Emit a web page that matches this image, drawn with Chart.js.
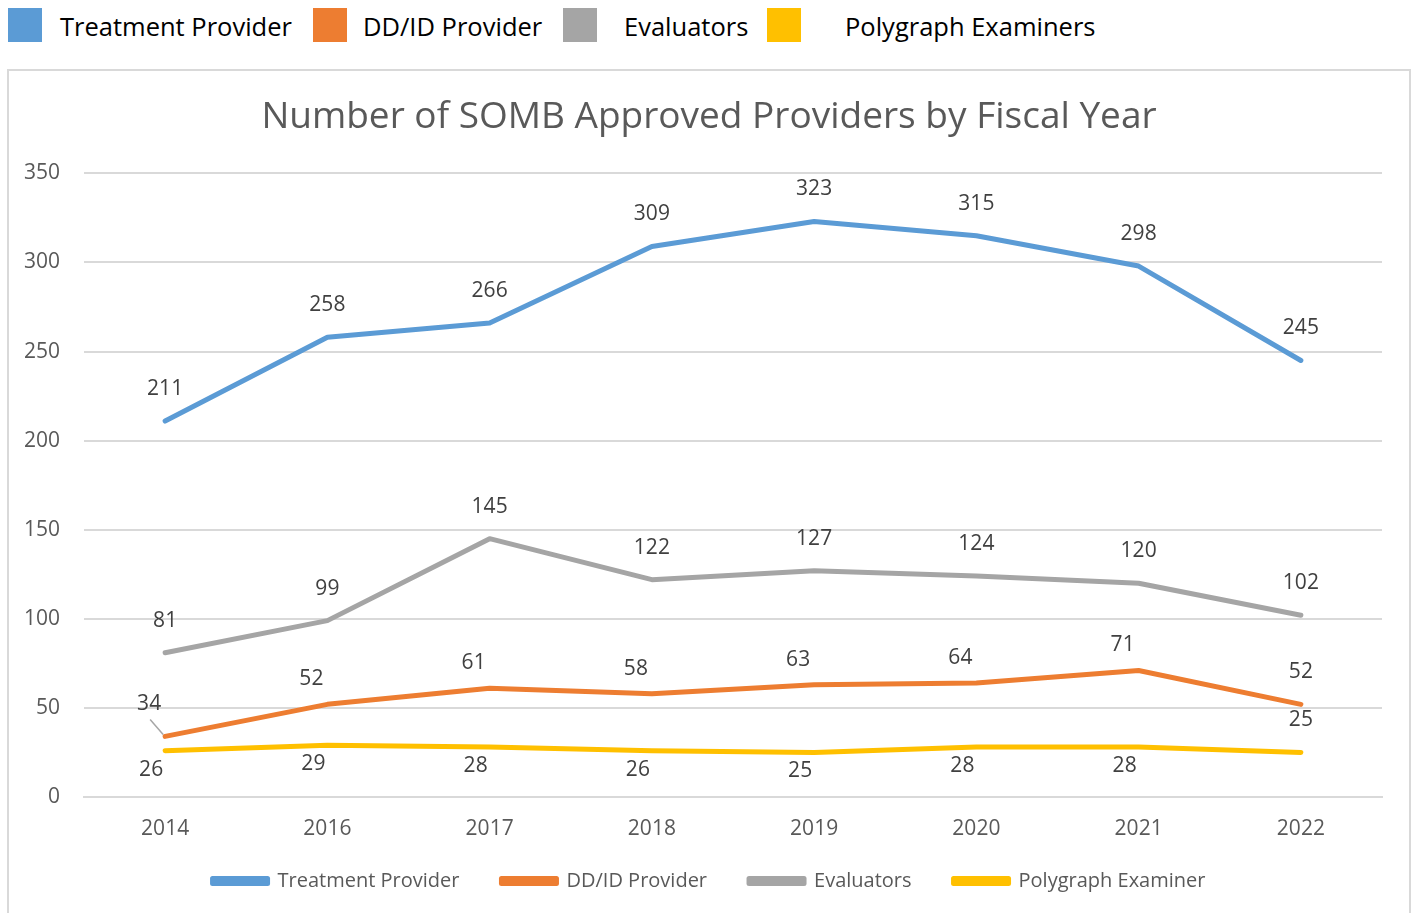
<!DOCTYPE html>
<html>
<head>
<meta charset="utf-8">
<script src="https://cdn.jsdelivr.net/npm/chart.js@4.4.1/dist/chart.umd.min.js"></script>
<style>
  body { margin: 0; background: #fff; font-family: "Open Sans", sans-serif; }
  #topLegend { position: absolute; left: 0; top: 0; width: 1414px; height: 60px; }
  .sw { position: absolute; top: 8px; width: 34px; height: 34px; }
  .lbl { position: absolute; top: 9px; height: 34px; line-height: 34px; font-size: 25.5px; color: #000; white-space: nowrap; }
  #box { position: absolute; left: 7px; top: 69px; width: 1400px; height: 860px; border: 2px solid #d9d9d9; }
  #wrap { position: absolute; left: 0; top: 0; width: 1400px; height: 842px; }
</style>
</head>
<body>
<div id="topLegend">
  <div class="sw" style="left:8px;background:#5B9BD5"></div><div class="lbl" style="left:60px">Treatment Provider</div>
  <div class="sw" style="left:313px;background:#ED7D31"></div><div class="lbl" style="left:363px">DD/ID Provider</div>
  <div class="sw" style="left:563px;background:#A5A5A5"></div><div class="lbl" style="left:624px">Evaluators</div>
  <div class="sw" style="left:767px;background:#FFC000"></div><div class="lbl" style="left:845px">Polygraph Examiners</div>
</div>
<div id="box"><div id="wrap"><canvas id="chart"></canvas></div></div>
<script>
// Approved providers per fiscal year
var years = ['2014', '2016', '2017', '2018', '2019', '2020', '2021', '2022'];
var treatment = [211, 258, 266, 309, 323, 315, 298, 245];
var ddid = [34, 52, 61, 58, 63, 64, 71, 52];
var evaluators = [81, 99, 145, 122, 127, 124, 120, 102];
var polygraph = [26, 29, 28, 26, 25, 28, 28, 25];

var seriesNames = ['Treatment Provider', 'DD/ID Provider', 'Evaluators', 'Polygraph Examiner'];
var seriesColors = ['#5B9BD5', '#ED7D31', '#A5A5A5', '#FFC000'];

// where each series puts its value labels (offset from the point), with a few exceptions
var labelPlace = [
  { dx: 0, dy: -32, except: {} },
  { dx: -16, dy: -25, except: { 0: { dx: -16, dy: -32, leader: true }, 7: { dx: 0, dy: -32 } } },
  { dx: 0, dy: -32, except: {} },
  { dx: -14, dy: 19, except: { 7: { dx: 0, dy: -32 } } }
];

var valueLabels = {
  id: 'valueLabels',
  afterDatasetsDraw: function (chart) {
    var ctx = chart.ctx;
    ctx.save();
    ctx.font = '21px "Open Sans"';
    ctx.fillStyle = '#404040';
    ctx.textAlign = 'center';
    ctx.textBaseline = 'middle';
    chart.data.datasets.forEach(function (ds, i) {
      var meta = chart.getDatasetMeta(i);
      var place = labelPlace[i];
      meta.data.forEach(function (pt, j) {
        var p = place.except[j] || place;
        var x = pt.x + p.dx, y = pt.y + p.dy;
        if (p.leader) {
          ctx.strokeStyle = '#a6a6a6';
          ctx.lineWidth = 1.5;
          ctx.beginPath();
          ctx.moveTo(x + 1, y + 15);
          ctx.lineTo(pt.x - 2, pt.y - 2);
          ctx.stroke();
        }
        ctx.fillText(ds.data[j], x, y);
      });
    });
    ctx.restore();
  }
};

function line(name, data, color) {
  return {
    label: name,
    data: data,
    borderColor: color,
    backgroundColor: color,
    borderWidth: 5,
    borderCapStyle: 'round',
    borderJoinStyle: 'round',
    pointRadius: 0,
    pointHoverRadius: 0,
    tension: 0
  };
}

new Chart(document.getElementById('chart'), {
  type: 'line',
  data: {
    labels: years,
    datasets: [
      line(seriesNames[0], treatment, seriesColors[0]),
      line(seriesNames[1], ddid, seriesColors[1]),
      line(seriesNames[2], evaluators, seriesColors[2]),
      line(seriesNames[3], polygraph, seriesColors[3])
    ]
  },
  options: {
    responsive: true,
    maintainAspectRatio: false,
    animation: false,
    layout: { padding: { left: 0, right: 0, top: 0, bottom: 12 } },
    plugins: {
      title: {
        display: true,
        text: 'Number of SOMB Approved Providers by Fiscal Year',
        color: '#595959',
        font: { family: 'Open Sans', size: 37, weight: 'normal' },
        padding: { top: 24, bottom: 34 }
      },
      legend: {
        position: 'bottom',
        labels: {
          boxWidth: 55,
          boxHeight: 5,
          padding: 42,
          color: '#595959',
          font: { family: 'Open Sans', size: 20 }
        }
      },
      tooltip: { enabled: false }
    },
    scales: {
      x: {
        offset: true,
        afterFit: function (scale) {
          // tighter axis band; let the year labels spill into the legend gap
          scale.height = 32;
          scale._computeLabelArea = function () { return undefined; };
        },
        grid: { display: false, drawTicks: false },
        border: { display: true, color: '#d9d9d9', width: 2 },
        ticks: { color: '#595959', padding: 19, font: { family: 'Open Sans', size: 21 } }
      },
      y: {
        min: 0,
        max: 350,
        afterFit: function (scale) { scale.width = 75; },
        grid: { color: '#d9d9d9', lineWidth: 2, drawTicks: false },
        border: { display: false },
        ticks: { stepSize: 50, color: '#595959', padding: 24, font: { family: 'Open Sans', size: 21 } }
      },
      // empty right margin so the title and legend stay centred on the box
      yRight: {
        position: 'right',
        afterFit: function (scale) { scale.width = 27; },
        grid: { display: false, drawTicks: false },
        border: { display: false },
        ticks: { display: false }
      }
    }
  },
  plugins: [valueLabels]
});
</script>
</body>
</html>
